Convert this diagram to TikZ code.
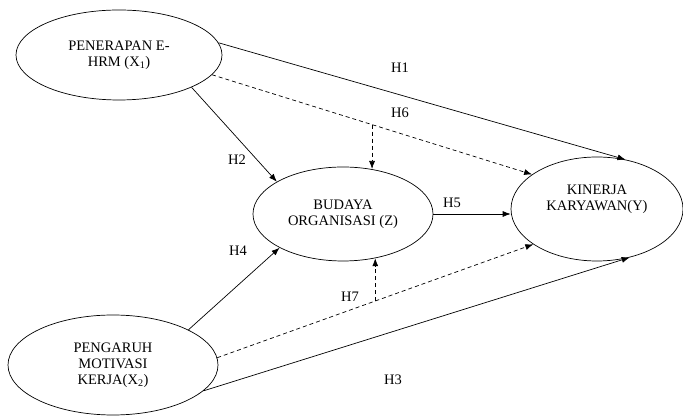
\documentclass[tikz,border=0pt]{standalone}
\usepackage{fontspec}
\setmainfont{Liberation Serif}
\usetikzlibrary{shapes.geometric,arrows.meta}
\begin{document}
\begin{tikzpicture}[x=1pt, y=1pt, >={Latex[length=8pt,width=6pt]}, every node/.style={font=\fontsize{14.5}{16}\selectfont}]
  \tikzstyle{var}=[draw,ellipse,align=center,inner sep=0pt,line width=0.7pt]
  \tikzstyle{link}=[->,line width=0.7pt]
  \tikzstyle{med}=[->,line width=0.7pt,dash pattern=on 4pt off 3pt]
  \useasboundingbox (0,0) rectangle (683,417);
  % variables
  \node[var,minimum width=206,minimum height=90] (x1) at (119,362) {PENERAPAN E-\\HRM (X\textsubscript{1})};
  \node[var,minimum width=180,minimum height=94] (z) at (343,203) {BUDAYA\\ORGANISASI (Z)};
  \node[var,minimum width=172,minimum height=104] (y) at (597,208) {KINERJA\\KARYAWAN(Y)\\[6pt]};
  \node[var,minimum width=210,minimum height=100] (x2) at (113,52) {PENGARUH\\MOTIVASI\\KERJA(X\textsubscript{2})};
  % direct paths
  \draw[link] (x1.7) -- (y.60);
  \draw[link] (x1.-24) -- (z.154);
  \draw[link] (x2.25) -- (z.208);
  \draw[link] (x2.-16) -- (y.-56);
  \draw[link] (z.east |- 0,203) -- (y.west |- 0,203);
  % mediated paths
  \draw[med] (x1.-12) -- coordinate[pos=0.5] (h6) (y.152);
  \draw[med] (h6) -- (h6 |- z.58);
  \draw[med] (x2.4.5) -- coordinate[pos=0.5] (h7) (y.209);
  \draw[med] (h7) -- (h7 |- z.-54);
  % labels
  \node (l1) at (400,349) {H1};
  \node (l6) at (400,304) {H6};
  \node (l2) at (237,257) {H2};
  \node (l4) at (238,166) {H4};
  \node (l5) at (452,214) {H5};
  \node (l7) at (350,120) {H7};
  \node (l3) at (393,37) {H3};
\end{tikzpicture}
\end{document}
